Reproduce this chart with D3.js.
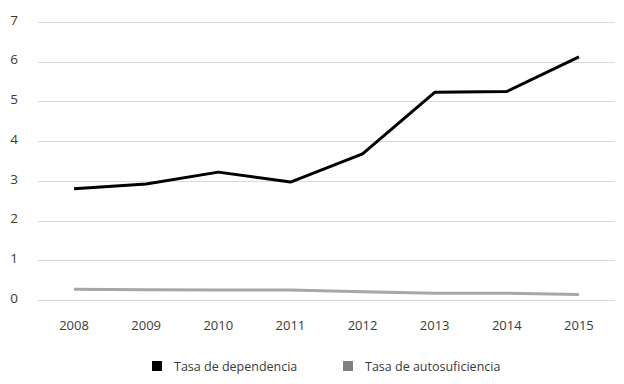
<!DOCTYPE html>
<html>
<head>
<meta charset="utf-8">
<script src="https://cdn.jsdelivr.net/npm/d3@7"></script>
<style>
  body { margin: 0; background: #fff; }
  text { font-family: "Open Sans", sans-serif; fill: #3a3a3a; }
</style>
</head>
<body>
<div id="chart"></div>
<script>
var years = ["2008", "2009", "2010", "2011", "2012", "2013", "2014", "2015"];
var dependencia = [2.80, 2.92, 3.22, 2.97, 3.68, 5.23, 5.25, 6.12];
var autosuficiencia = [0.27, 0.26, 0.25, 0.25, 0.21, 0.17, 0.17, 0.14];
var yTicks = [0, 1, 2, 3, 4, 5, 6, 7];

var width = 624, height = 384;
var margin = { top: 22, right: 9, bottom: 84, left: 38 };

var svg = d3.select("#chart").append("svg")
  .attr("width", width)
  .attr("height", height);

var x = d3.scalePoint()
  .domain(years)
  .range([margin.left, width - margin.right])
  .padding(0.5);

var y = d3.scaleLinear()
  .domain([0, 7])
  .range([height - margin.bottom, margin.top]);

// gridlines
svg.append("g")
  .selectAll("line")
  .data(yTicks)
  .enter().append("line")
  .attr("x1", margin.left)
  .attr("x2", width - margin.right)
  .attr("y1", function(d) { return Math.round(y(d)) + 0.5; })
  .attr("y2", function(d) { return Math.round(y(d)) + 0.5; })
  .attr("stroke", "#d9d9d9")
  .attr("stroke-width", 1);

// y labels
svg.append("g")
  .selectAll("text")
  .data(yTicks)
  .enter().append("text")
  .attr("x", 14)
  .attr("y", function(d) { return y(d) - 2; })
  .attr("dy", "0.35em")
  .attr("text-anchor", "middle")
  .style("font-size", "13.5px")
  .text(function(d) { return d; });

// x labels
svg.append("g")
  .selectAll("text")
  .data(years)
  .enter().append("text")
  .attr("x", function(d) { return x(d); })
  .attr("y", 330)
  .attr("text-anchor", "middle")
  .style("font-size", "13px")
  .text(function(d) { return d; });

var line = d3.line()
  .x(function(d, i) { return x(years[i]); })
  .y(function(d) { return y(d); });

svg.append("path")
  .datum(autosuficiencia)
  .attr("fill", "none")
  .attr("stroke", "#a6a6a6")
  .attr("stroke-width", 3)
  .attr("d", line);

svg.append("path")
  .datum(dependencia)
  .attr("fill", "none")
  .attr("stroke", "#000")
  .attr("stroke-width", 3)
  .attr("stroke-linejoin", "round")
  .attr("d", line);

// legend
var legend = [
  { name: "Tasa de dependencia", color: "#000", x: 152 },
  { name: "Tasa de autosuficiencia", color: "#808080", x: 343 }
];

var lg = svg.append("g")
  .selectAll("g")
  .data(legend)
  .enter().append("g")
  .attr("transform", function(d) { return "translate(" + d.x + ",361)"; });

lg.append("rect")
  .attr("width", 10)
  .attr("height", 10)
  .attr("fill", function(d) { return d.color; });

lg.append("text")
  .attr("x", 22)
  .attr("y", 10)
  .style("font-size", "12.5px")
  .text(function(d) { return d.name; });
</script>
</body>
</html>
